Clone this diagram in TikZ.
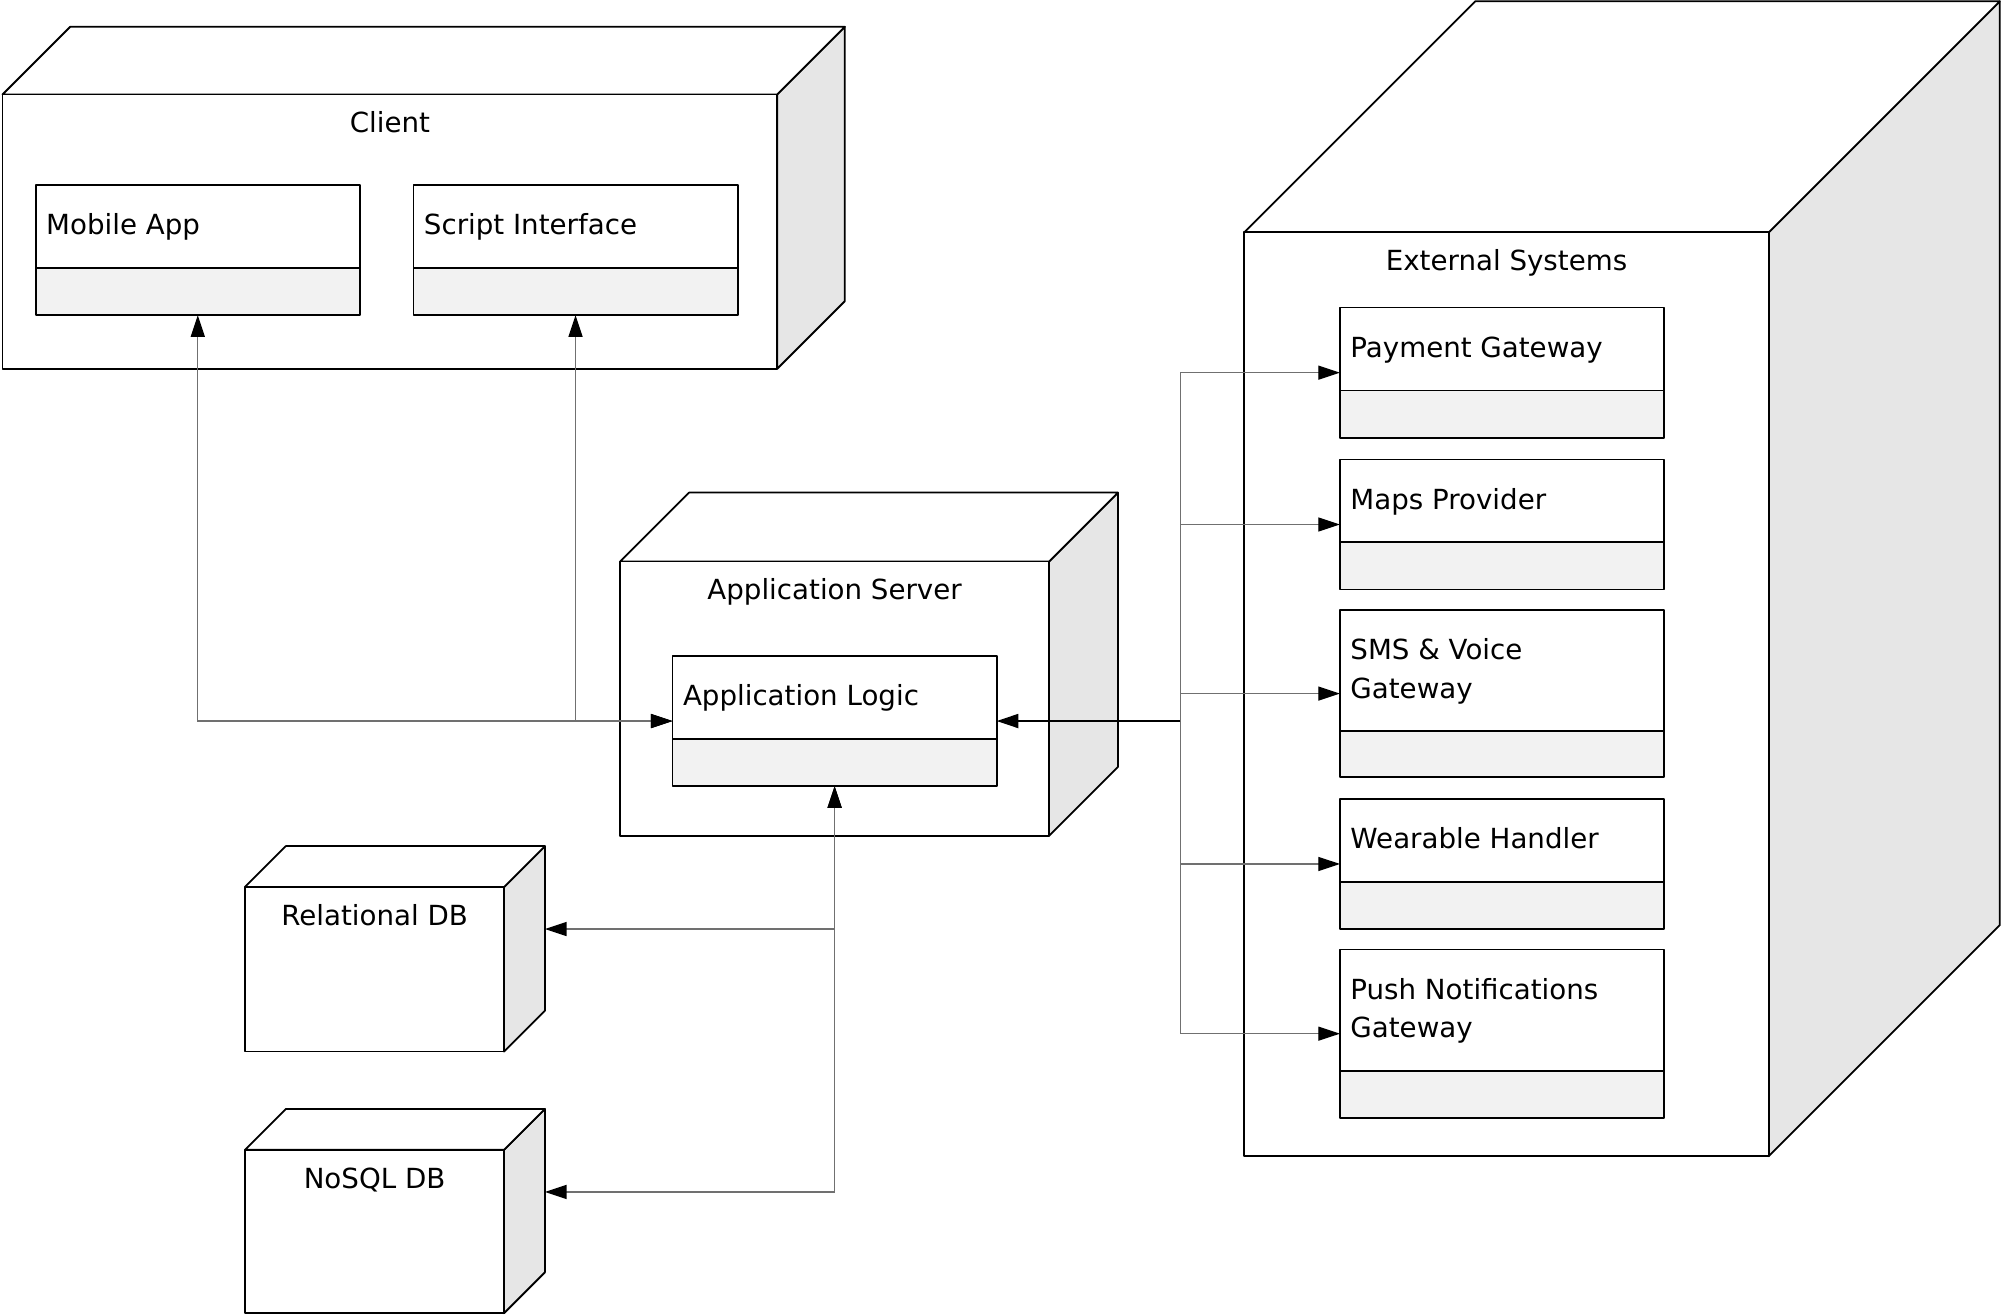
\documentclass[tikz,border=0pt]{standalone}
\usepackage{fontspec}
\setmainfont{DejaVu Sans}
\usetikzlibrary{arrows.meta}
\definecolor{sidegray}{HTML}{E6E6E6}
\definecolor{compgray}{HTML}{F2F2F2}
\definecolor{conngray}{HTML}{707070}
\tikzset{
  txt/.style={font=\fontsize{21.7}{30}\selectfont, inner sep=0pt},
  border/.style={draw=black, line width=1.4pt, line join=round},
  conn/.style={draw=conngray, line width=1pt},
  darkconn/.style={draw=black, line width=1.4pt},
  tipend/.style={-{Triangle[length=17pt,width=11pt,color=black]}},
  tipboth/.style={{Triangle[length=17pt,width=11pt,color=black]}-{Triangle[length=17pt,width=11pt,color=black]}},
}
% name, x1, y1, x2, y2, depth, label
\newcommand\cubebox[7]{%
  \draw[border, fill=sidegray] (#4,#3) -- (#4+#6,#3-#6) -- (#4+#6,#5-#6) -- (#4,#5) -- cycle;
  \draw[border, fill=white] (#2,#3) -- (#2+#6,#3-#6) -- (#4+#6,#3-#6) -- (#4,#3) -- cycle;
  \node[border, fill=white, inner sep=0pt, outer sep=0pt, minimum width={#4-#2}, minimum height={#5-#3}] (#1) at ({(#2+#4)/2},{(#3+#5)/2}) {};
  \node[txt, anchor=base] (#1-label) at ({(#2+#4)/2},#3+30) {#7};
}
% name, x1, y1, x2, y2, divider, text, baseline offset of last line
\newcommand\compbox[8]{%
  \fill[compgray] (#2,#6) rectangle (#4,#5);
  \node[border, inner sep=0pt, outer sep=0pt, minimum width={#4-#2}, minimum height={#5-#3}] (#1) at ({(#2+#4)/2},{(#3+#5)/2}) {};
  \draw[border] (#2,#6) -- (#4,#6);
  \node[txt, anchor=base west, align=left] (#1-text) at (#2+8,#3+#8) {#7};
}
\begin{document}
\begin{tikzpicture}[x=1pt,y=-1pt]
\useasboundingbox (0,0) rectangle (1568,1031);
% nodes (cubes)
\cubebox{client}{2}{74}{609}{289}{53}{Client}
\cubebox{appserver}{486}{440}{822}{655}{54}{Application Server}
\cubebox{reldb}{192}{695}{395}{824}{32}{Relational DB}
\cubebox{nosql}{192}{901}{395}{1029}{32}{NoSQL DB}
\cubebox{external}{975}{182}{1386}{906}{181}{External Systems}
% components
\compbox{mobile}{28}{145}{282}{247}{210}{Mobile App}{39}
\compbox{script}{324}{145}{578}{247}{210}{Script Interface}{39}
\compbox{logic}{527}{514}{781}{616}{579}{Application Logic}{39}
\compbox{payment}{1050}{241}{1304}{343}{306}{Payment Gateway}{39}
\compbox{maps}{1050}{360}{1304}{462}{425}{Maps Provider}{39}
\compbox{sms}{1050}{478}{1304}{609}{573}{SMS \& Voice\\Gateway}{69}
\compbox{wearable}{1050}{626}{1304}{728}{691}{Wearable Handler}{39}
\compbox{push}{1050}{744}{1304}{876}{839}{Push Notifications\\Gateway}{69}
% connector ends
\coordinate (relin) at (427,728);
\coordinate (nosqlin) at (427,934);
\coordinate (trunk) at (925,565);
% connectors
\draw[conn, tipboth] (mobile.south) |- (logic.west);
\draw[conn, tipboth] (script.south) |- (logic.west);
\draw[conn, tipboth] (logic.south) |- (relin);
\draw[conn, tipboth] (logic.south) |- (nosqlin);
\draw[conn, tipend] (trunk) |- (payment.west);
\draw[conn, tipend] (trunk) |- (maps.west);
\draw[conn, tipend] (trunk) |- (sms.west);
\draw[conn, tipend] (trunk) |- (wearable.west);
\draw[conn, tipend] (trunk) |- (push.west);
\draw[darkconn, tipend] (trunk) -- (logic.east);
\end{tikzpicture}
\end{document}
